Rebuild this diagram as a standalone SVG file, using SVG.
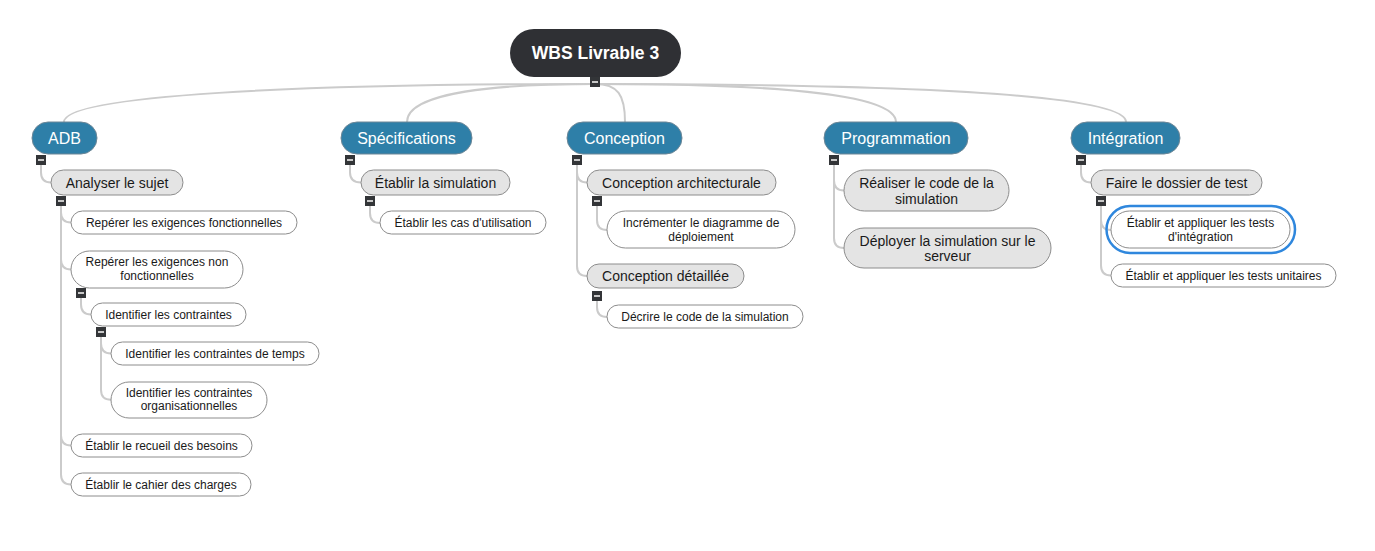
<svg xmlns="http://www.w3.org/2000/svg" width="1375" height="551" viewBox="0 0 1375 551">
<style>
text{font-family:"Liberation Sans",Arial,sans-serif;text-anchor:middle}
.conn path{fill:none;stroke:#cbcbcb;stroke-width:2}
.root rect{fill:#2f3034}
.root text{fill:#fff;font-size:17.5px;font-weight:bold}
.l1 rect{fill:#2e7fa8;stroke:#6d8797;stroke-width:1}
.l1 text{fill:#fff;font-size:16px}
.l2 rect{fill:#e4e4e4;stroke:#8c8c8c;stroke-width:1}
.l2 text{fill:#1a1a1a;font-size:14px}
.l3 rect{fill:#fff;stroke:#8c8c8c;stroke-width:1}
.l3 text{fill:#1a1a1a;font-size:12px}
.l3 rect.sel{fill:none;stroke:#2f87dd;stroke-width:2.5}
</style>
<defs>
<g id="cb"><rect x="-5" y="0" width="10" height="10" fill="#333538"/><rect x="-3" y="4" width="6" height="2" fill="#c8c8c8"/></g>
</defs>
<rect width="1375" height="551" fill="#fff"/>
<g class="conn">
<path d="M595,84 C300,84 64,95 64,122"/>
<path d="M595,84 C500,84 407,92 407,122"/>
<path d="M595,84 C618,84 625,95 625,122"/>
<path d="M595,84 C760,84 896,92 896,122"/>
<path d="M595,84 C900,84 1126,94 1126,122"/>
<path d="M41,165 V172.5 Q41,182.5 51,182.5"/>
<path d="M61,206 V212.5 Q61,222.5 71,222.5"/>
<path d="M61,206 V259.5 Q61,269.5 71,269.5"/>
<path d="M61,206 V435.5 Q61,445.5 71,445.5"/>
<path d="M61,206 V474.5 Q61,484.5 71,484.5"/>
<path d="M81,298 V304.5 Q81,314.5 91,314.5"/>
<path d="M101,337 V343.5 Q101,353.5 111,353.5"/>
<path d="M101,337 V389.7 Q101,399.7 111,399.7"/>
<path d="M350,165 V172.5 Q350,182.5 361,182.5"/>
<path d="M370,206 V213 Q370,223 380,223"/>
<path d="M577,165 V172.5 Q577,182.5 587,182.5"/>
<path d="M577,165 V266 Q577,276 587,276"/>
<path d="M597,206 V220 Q597,230 607,230"/>
<path d="M597,301 V307 Q597,317 607,317"/>
<path d="M834,165 V180.5 Q834,190.5 844,190.5"/>
<path d="M834,165 V238 Q834,248 844,248"/>
<path d="M1081,165 V172.5 Q1081,182.5 1091,182.5"/>
<path d="M1101,206 V220 Q1101,230 1111,230"/>
<path d="M1101,206 V265.5 Q1101,275.5 1111,275.5"/>
</g>
<g id="root" class="root"><rect x="510" y="29" width="171" height="48" rx="24"/><text x="595.5" y="59">WBS Livrable 3</text><use href="#cb" x="595" y="77"/></g>
<g id="adb" class="l1"><rect x="32" y="122" width="65" height="32" rx="16"/><text x="64.5" y="144">ADB</text><use href="#cb" x="41" y="155"/></g>
<g id="spec" class="l1"><rect x="341" y="122" width="131" height="32" rx="16"/><text x="406.5" y="144">Spécifications</text><use href="#cb" x="350" y="155"/></g>
<g id="conception" class="l1"><rect x="567" y="122" width="115" height="32" rx="16"/><text x="624.5" y="144">Conception</text><use href="#cb" x="577" y="155"/></g>
<g id="prog" class="l1"><rect x="824" y="122" width="144" height="32" rx="16"/><text x="896" y="144">Programmation</text><use href="#cb" x="834" y="155"/></g>
<g id="integ" class="l1"><rect x="1071" y="122" width="109" height="32" rx="16"/><text x="1125.5" y="144">Intégration</text><use href="#cb" x="1081" y="155"/></g>
<g id="analyser" class="l2"><rect x="51" y="170" width="132" height="25" rx="12.5"/><text x="117" y="187.5">Analyser le sujet</text><use href="#cb" x="61" y="196"/></g>
<g id="etab-sim" class="l2"><rect x="361" y="170" width="149" height="25" rx="12.5"/><text x="435.5" y="187.5">Établir la simulation</text><use href="#cb" x="370" y="196"/></g>
<g id="conc-archi" class="l2"><rect x="587" y="170" width="189" height="25" rx="12.5"/><text x="681.5" y="187.5">Conception architecturale</text><use href="#cb" x="597" y="196"/></g>
<g id="conc-det" class="l2"><rect x="587" y="264" width="157" height="24" rx="12"/><text x="665.5" y="281">Conception détaillée</text><use href="#cb" x="597" y="291"/></g>
<g id="realiser" class="l2"><rect x="844" y="170" width="165" height="41" rx="20.5"/><text x="926.5" y="188">Réaliser le code de la</text><text x="926.5" y="203.5">simulation</text></g>
<g id="deployer" class="l2"><rect x="844" y="228" width="207" height="40" rx="20"/><text x="947.5" y="245.5">Déployer la simulation sur le</text><text x="947.5" y="261">serveur</text></g>
<g id="faire" class="l2"><rect x="1091" y="170" width="171" height="25" rx="12.5"/><text x="1176.5" y="187.5">Faire le dossier de test</text><use href="#cb" x="1101" y="196"/></g>
<g id="rep-fonc" class="l3"><rect x="71" y="211" width="226" height="23" rx="11.5"/><text x="184" y="226.5">Repérer les exigences fonctionnelles</text></g>
<g id="rep-nonfonc" class="l3"><rect x="71" y="251" width="172" height="37" rx="18.5"/><text x="157" y="266">Repérer les exigences non</text><text x="157" y="279.5">fonctionnelles</text><use href="#cb" x="81" y="288"/></g>
<g id="ident-contr" class="l3"><rect x="91" y="303" width="155" height="23" rx="11.5"/><text x="168.5" y="318.5">Identifier les contraintes</text><use href="#cb" x="101" y="327"/></g>
<g id="ident-temps" class="l3"><rect x="111" y="342" width="208" height="23" rx="11.5"/><text x="215" y="357.5">Identifier les contraintes de temps</text></g>
<g id="ident-org" class="l3"><rect x="111" y="382" width="156" height="36" rx="18"/><text x="189" y="397">Identifier les contraintes</text><text x="189" y="410">organisationnelles</text></g>
<g id="recueil" class="l3"><rect x="71" y="434" width="181" height="23" rx="11.5"/><text x="161.5" y="449.5">Établir le recueil des besoins</text></g>
<g id="cahier" class="l3"><rect x="71" y="473" width="180" height="23" rx="11.5"/><text x="161" y="488.5">Établir le cahier des charges</text></g>
<g id="cas" class="l3"><rect x="380" y="211" width="166" height="23" rx="11.5"/><text x="463" y="226.5">Établir les cas d'utilisation</text></g>
<g id="increm" class="l3"><rect x="607" y="211" width="188" height="37" rx="18.5"/><text x="701" y="227">Incrémenter le diagramme de</text><text x="701" y="240.5">déploiement</text></g>
<g id="decrire" class="l3"><rect x="607" y="305" width="196" height="23" rx="11.5"/><text x="705" y="320.5">Décrire le code de la simulation</text></g>
<g id="tests-integ" class="l3"><rect class="sel" x="1106.5" y="206" width="188.5" height="47" rx="23.5"/><rect x="1111" y="211" width="179" height="37" rx="18.5"/><text x="1200.5" y="227">Établir et appliquer les tests</text><text x="1200.5" y="240.5">d'intégration</text></g>
<g id="tests-unit" class="l3"><rect x="1111" y="264" width="225" height="23" rx="11.5"/><text x="1223.5" y="279.5">Établir et appliquer les tests unitaires</text></g>
</svg>
